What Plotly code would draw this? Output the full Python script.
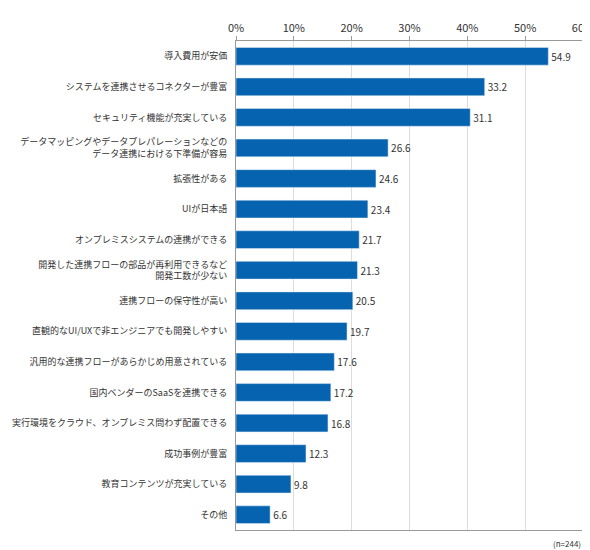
import plotly.graph_objects as go

categories = [
    "導入費用が安価",
    "システムを連携させるコネクターが豊富",
    "セキュリティ機能が充実している",
    "データマッピングやデータプレパレーションなどの<br>データ連携における下準備が容易",
    "拡張性がある",
    "UIが日本語",
    "オンプレミスシステムの連携ができる",
    "開発した連携フローの部品が再利用できるなど<br>開発工数が少ない",
    "連携フローの保守性が高い",
    "直観的なUI/UXで非エンジニアでも開発しやすい",
    "汎用的な連携フローがあらかじめ用意されている",
    "国内ベンダーのSaaSを連携できる",
    "実行環境をクラウド、オンプレミス問わず配置できる",
    "成功事例が豊富",
    "教育コンテンツが充実している",
    "その他",
]
# values as printed on the chart
labels = [54.9, 33.2, 31.1, 26.6, 24.6, 23.4, 21.7, 21.3, 20.5, 19.7, 17.6, 17.2, 16.8, 12.3, 9.8, 6.6]
# bar lengths as drawn in the reference
bar_len = [54.0, 43.0, 40.5, 26.3, 24.2, 22.8, 21.3, 21.0, 20.2, 19.2, 17.0, 16.4, 15.9, 12.1, 9.5, 5.9]

fig = go.Figure(go.Bar(
    x=bar_len, y=categories, orientation="h",
    marker_color="#0563b0", width=0.58,
    text=[f"{v:.1f}" for v in labels], textposition="outside",
    textfont=dict(size=10, color="#333"), cliponaxis=False,
))
fig.update_layout(
    width=590, height=550,
    margin=dict(l=228, r=15, t=33, b=28),
    plot_bgcolor="white", paper_bgcolor="white",
    font=dict(family="Noto Sans CJK JP", size=9, color="#333"),
    showlegend=False,
)
fig.update_xaxes(
    side="top", range=[0, 60], dtick=10, ticksuffix="%",
    showgrid=True, gridcolor="#dddddd", zeroline=False,
    showline=True, linecolor="#999", mirror=True,
    ticks="outside", ticklen=4, tickcolor="#999",
    tickfont=dict(size=11), automargin=False,
)
fig.update_yaxes(
    autorange="reversed", showline=True, linecolor="#999", mirror=True,
    ticks="", tickfont=dict(size=9), ticklabelstandoff=6, automargin=False,
)
fig.add_annotation(
    text="(n=244)", x=1, y=0, xref="paper", yref="paper",
    xanchor="right", yanchor="top", yshift=-6, showarrow=False,
    font=dict(size=8),
)
fig.write_html("out.html")
